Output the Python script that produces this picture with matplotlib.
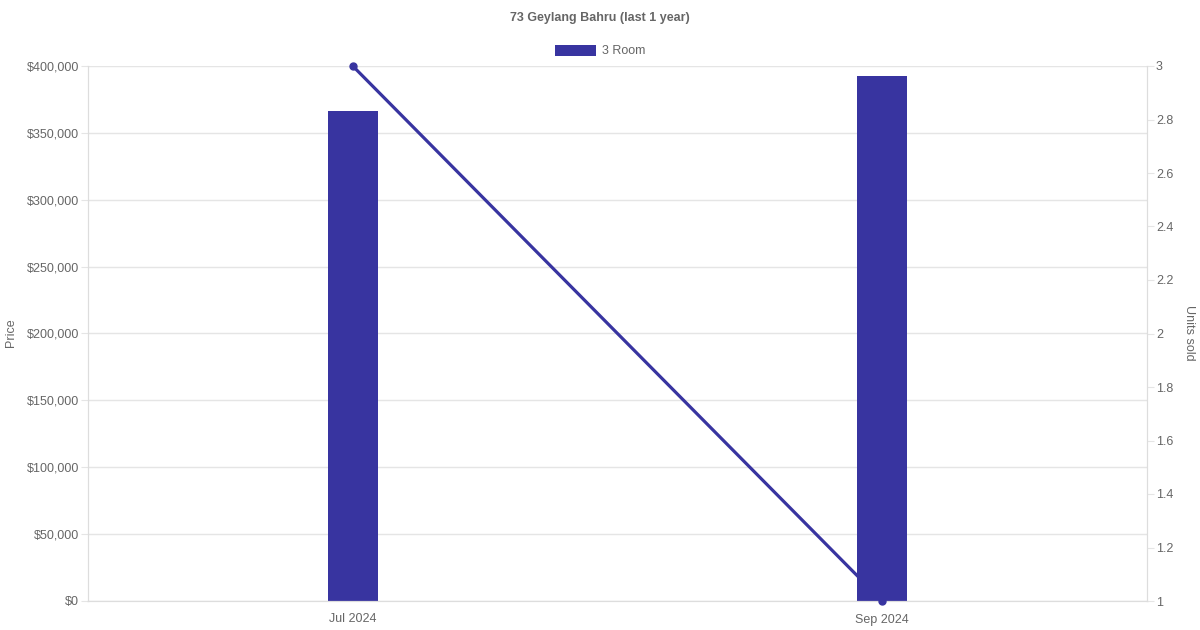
import matplotlib.pyplot as plt
from matplotlib.patches import Patch

plt.rcParams['font.family'] = ['Liberation Sans', 'DejaVu Sans']

months = ['Jul 2024', 'Sep 2024']
prices = [366000, 392500]
units = [3, 1]

color = '#3834A0'
text_color = '#666666'
grid_color = '#e5e5e5'

fig = plt.figure(figsize=(12, 6.3), dpi=100)
ax = fig.add_axes([88/1200, 29/630, 1059/1200, 535/630])
ax2 = ax.twinx()

x = list(range(len(months)))
bar_w = 50/529.5
ax.bar(x, prices, width=bar_w, color=color, zorder=2)

ax2.plot(x, units, color=color, lw=2.3, marker='o', ms=5, zorder=3, clip_on=False)

ax.set_xlim(-0.5, 1.5)
ax.set_ylim(0, 400000)
ax2.set_ylim(1, 3)

ax.set_xticks(x)
ax.set_xticklabels(months)
ax.set_yticks(range(0, 400001, 50000))
ax.set_yticklabels(['$' + format(v, ',') for v in range(0, 400001, 50000)])
ax2.set_yticks([1 + 0.2*i for i in range(11)])
ax2.set_yticklabels([f'{1 + 0.2*i:g}' for i in range(11)])

ax.grid(axis='y', color=grid_color, lw=1)
ax.set_axisbelow(True)
for a in (ax, ax2):
    for s in a.spines.values():
        s.set_color('#dddddd')
    a.spines['top'].set_visible(False)
    a.tick_params(colors=text_color, labelsize=9, length=5, color=grid_color, pad=1.5)
ax.tick_params(axis='x', length=0, pad=9)

fig.text(11/1200, 1 - 333/630, 'Price', rotation=90, ha='center', va='center',
         color=text_color, fontsize=9)
fig.text(1189/1200, 1 - 333/630, 'Units sold', rotation=270, ha='center', va='center',
         color=text_color, fontsize=9)

fig.text(0.5, 1 - 18/630, '73 Geylang Bahru (last 1 year)', ha='center', va='center',
         fontsize=9, fontweight='bold', color=text_color)
fig.legend(handles=[Patch(fc=color, ec='none', label='3 Room')], loc='center',
           bbox_to_anchor=(0.5, 1 - 51/630), frameon=False, fontsize=9,
           labelcolor=text_color, handlelength=3.3, handleheight=1.0, handletextpad=0.5)

fig.savefig('out.png', dpi=100)
